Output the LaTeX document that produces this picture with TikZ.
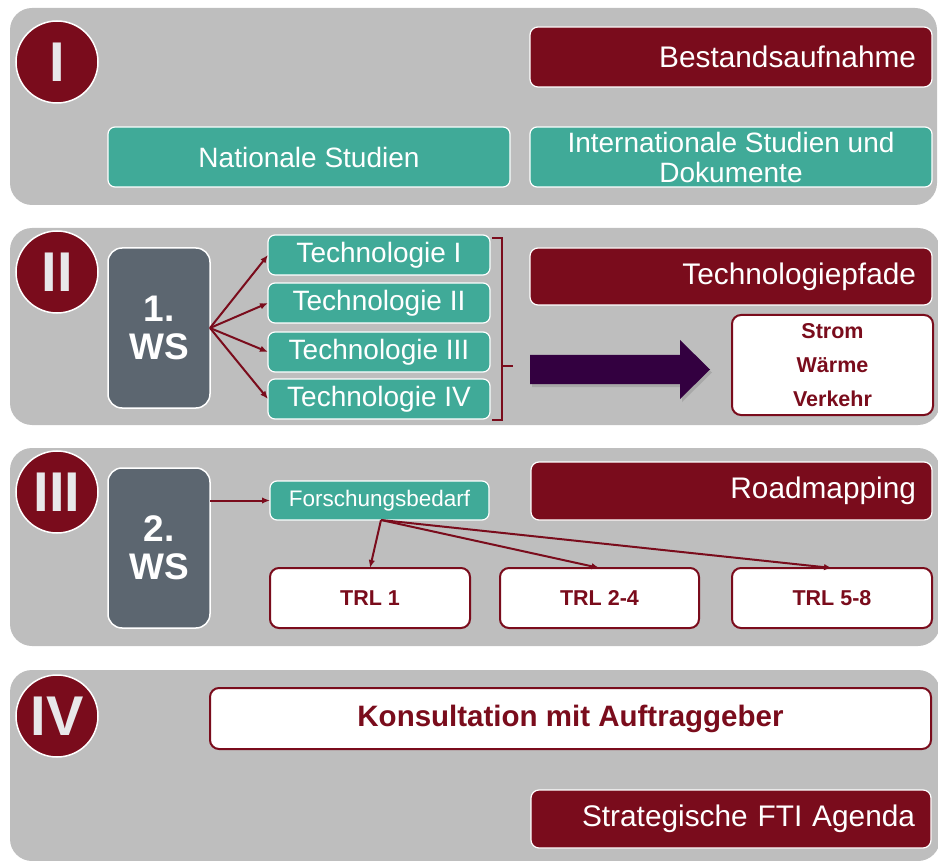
\documentclass[tikz,border=0pt]{standalone}
\usepackage{fontspec}
\setmainfont{Liberation Sans}
\usetikzlibrary{arrows.meta,shadows,calc}

\definecolor{panelgray}{RGB}{190,190,190}
\definecolor{wine}{RGB}{122,12,28}
\definecolor{tealbg}{RGB}{64,170,152}
\definecolor{wsgray}{RGB}{92,102,112}
\definecolor{arrowpurple}{RGB}{51,0,64}
\definecolor{numtext}{RGB}{232,232,234}

\tikzset{
  panel/.style={fill=panelgray, rounded corners=22pt},
  numeral/.style={circle, fill=wine, draw=white, line width=1.5pt,
    minimum size=82pt, inner sep=0pt, outer sep=0pt, text=numtext,
    font=\fontsize{56}{56}\selectfont\bfseries},
  tealbox/.style={rounded corners=7pt, fill=tealbg, draw=white, line width=1.2pt,
    text=white, inner sep=0pt, outer sep=0pt, align=center,
    font=\fontsize{28}{30}\selectfont},
  redbox/.style={rounded corners=8pt, fill=wine, draw=white, line width=1.2pt,
    text=white, inner ysep=0pt, inner xsep=16pt, outer sep=0pt, align=right,
    font=\fontsize{29.8}{31}\selectfont},
  whitebox/.style={rounded corners=9pt, fill=white, draw=wine, line width=2pt,
    text=wine, inner sep=0pt, outer sep=0pt, align=center,
    font=\fontsize{21.5}{34}\selectfont\bfseries},
  wsbox/.style={rounded corners=14pt, fill=wsgray, draw=white, line width=1.5pt,
    text=white, inner sep=0pt, outer sep=0pt, align=center,
    font=\fontsize{37}{38}\selectfont\bfseries},
  link/.style={-{Latex[length=8pt,width=6.5pt]}, draw=wine, line width=2pt},
  brace/.style={draw=wine, line width=2.3pt},
}

\begin{document}
\begin{tikzpicture}[x=1pt, y=-1pt]
\useasboundingbox (0,0) rectangle (938,861);

% background bands of the four phases
\begin{scope}
  \clip (0,0) rectangle (938,861);
  \fill[panel] (10,8)   rectangle (937,205);
  \fill[panel] (10,228) rectangle (940,425);
  \fill[panel] (10,448) rectangle (940,646);
  \fill[panel] (10,670) rectangle (940,861);
\end{scope}

% phase numerals
\node[numeral] (n1) at (57,62)  {I};
\node[numeral] (n2) at (57,272) {II};
\node[numeral] (n3) at (57,492) {III};
\node[numeral] (n4) at (57,716) {IV};

% phase I
\node[redbox, text width=370pt, minimum height=60pt] (bestand) at (731,57) {Bestandsaufnahme};
\node[tealbox, minimum width=402pt, minimum height=60pt] (nat) at (309,157) {Nationale Studien};
\node[tealbox, minimum width=402pt, minimum height=60pt] (intl) at (731,157)
  {Internationale Studien und\\Dokumente};

% phase II
\node[wsbox, minimum width=102pt, minimum height=160pt] (ws1) at (159,328) {1.\\WS};
\node[tealbox, minimum width=222pt, minimum height=40pt] (t1) at (379,255) {Technologie I};
\node[tealbox, minimum width=222pt, minimum height=40pt] (t2) at (379,303) {Technologie II};
\node[tealbox, minimum width=222pt, minimum height=40pt] (t3) at (379,352) {Technologie III};
\node[tealbox, minimum width=222pt, minimum height=40pt] (t4) at (379,399) {Technologie IV};
\foreach \t in {t1,t2,t3,t4}
  \draw[link] (ws1.east) -- (\t.west);

% bracket grouping the technologies
\coordinate (btop) at ($(t1.north east)+(12,3)$);
\coordinate (bbot) at ($(t4.south east)+(12,1)$);
\draw[brace] ($(btop)+(-10,0)$) -- (btop) -- (bbot) -- ($(bbot)+(-10,0)$);
\coordinate (btick) at (btop |- 0,366);
\draw[brace] (btick) -- ++(11,0);

\node[redbox, text width=370pt, minimum height=57pt] (pfade) at (731,276.5) {Technologiepfade};
\node[whitebox, minimum width=201pt, minimum height=100pt] (sector) at (832.5,365)
  {Strom\\Wärme\\Verkehr};

% broad arrow towards the technology paths
\fill[arrowpurple, drop shadow={shadow xshift=2pt, shadow yshift=-3pt, opacity=0.35}]
  (530,355) -- (680,355) -- (680,340) -- (710,369.5) -- (680,399) -- (680,384)
  -- (530,384) -- cycle;

% phase III
\node[wsbox, minimum width=102pt, minimum height=160pt] (ws2) at (159,548) {2.\\WS};
\node[tealbox, minimum width=219pt, minimum height=39pt,
  font=\fontsize{22.5}{24}\selectfont] (forsch) at (379.5,500.5) {Forschungsbedarf};
\draw[link] (ws2.east |- forsch.west) -- (forsch.west);
\node[redbox, text width=369pt, minimum height=58pt] (road) at (731.5,491) {Roadmapping};
\node[whitebox, minimum width=200pt, minimum height=60pt] (trl1) at (370,598) {TRL 1};
\node[whitebox, minimum width=199pt, minimum height=60pt] (trl2) at (599.5,598) {TRL 2-4};
\node[whitebox, minimum width=200pt, minimum height=60pt] (trl3) at (832,598) {TRL 5-8};
\coordinate (fs) at ($(forsch.south)+(1.5,0)$);
\draw[link] (fs) -- (trl1.north);
\draw[link] (fs) -- (trl2.north);
\draw[link] (fs) -- (trl3.north);

% phase IV
\node[whitebox, minimum width=721pt, minimum height=61pt,
  font=\fontsize{29.5}{31}\selectfont\bfseries] (kons) at (570.5,718.5)
  {Konsultation mit Auftraggeber};
\node[redbox, text width=368pt, minimum height=58pt] (agenda) at (731,819)
  {Strategische FTI Agenda};
\end{tikzpicture}
\end{document}
